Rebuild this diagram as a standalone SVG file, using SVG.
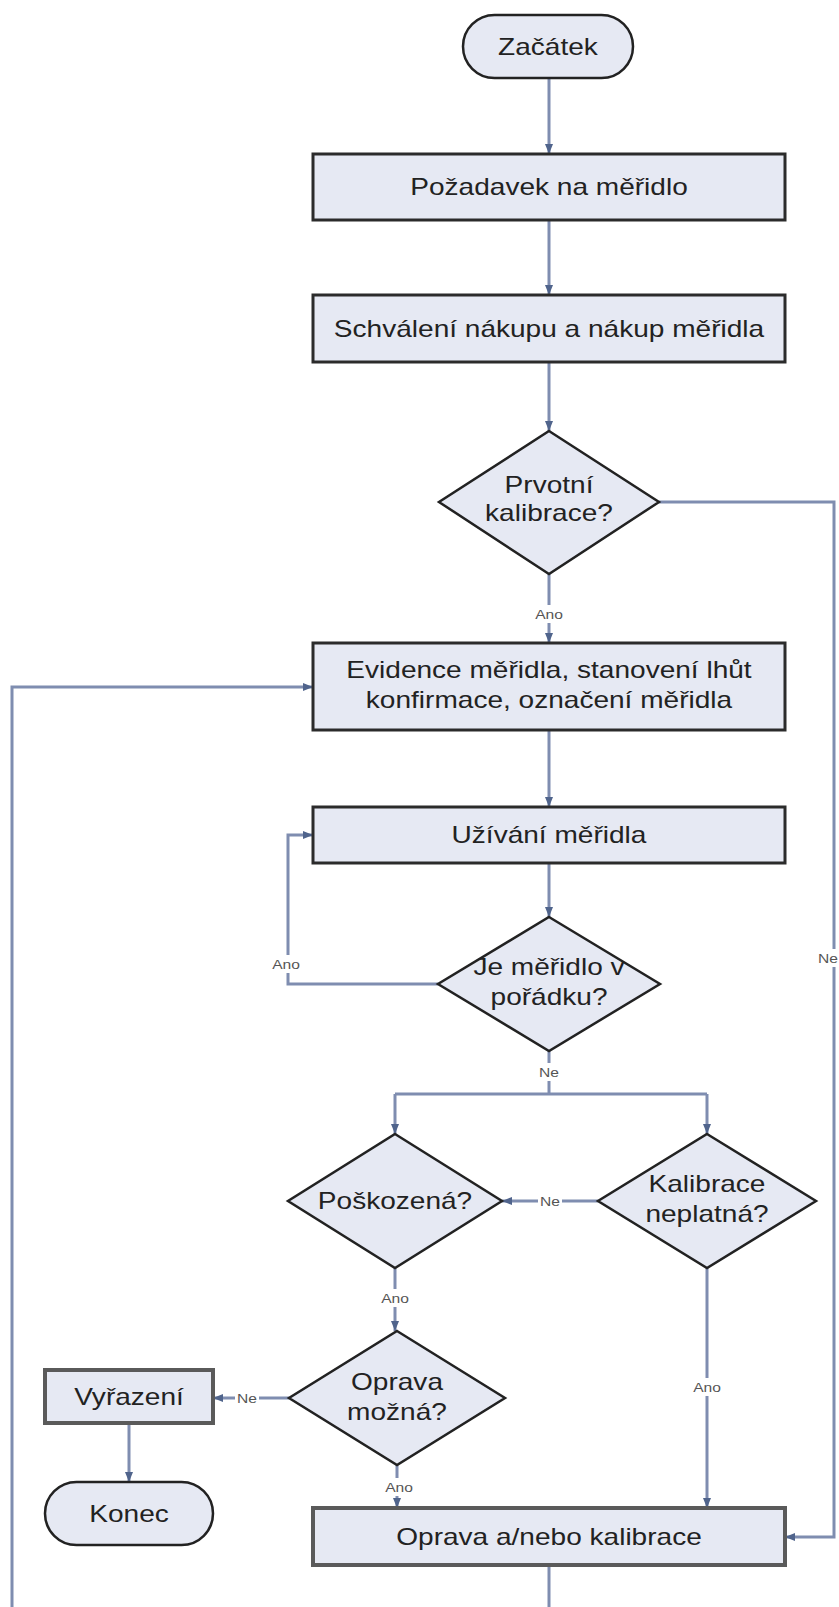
<svg xmlns="http://www.w3.org/2000/svg" width="839" height="1607" viewBox="0 0 839 1607">
  <style>
    .box { fill: #e6e9f3; stroke: #2b2b2b; stroke-width: 3; }
    .box2 { fill: #e6e9f3; stroke: #5a5a5a; stroke-width: 4; }
    .dia { fill: #e6e9f3; stroke: #222; stroke-width: 2.5; }
    .term { fill: #e6e9f3; stroke: #222; stroke-width: 2.5; }
    .t { font-family: "Liberation Sans", Arial, sans-serif; font-size: 23px; fill: #222; text-anchor: middle; }
    .lbl { font-family: "Liberation Sans", Arial, sans-serif; font-size: 13px; fill: #555; text-anchor: middle; }
    .lblbg { fill: #fff; }
    .conn { fill: none; stroke: #7f8db0; stroke-width: 3; }
  </style>
  <defs>
    <marker id="arr" markerUnits="userSpaceOnUse" markerWidth="10" markerHeight="10" viewBox="0 0 10 10" refX="10" refY="5" orient="auto">
      <path d="M0,1 L10,5 L0,9 Z" fill="#50648c"/>
    </marker>
  </defs>
  <rect width="839" height="1607" fill="#fff"/>

  <!-- connectors -->
  <g id="connectors">
    <path class="conn" d="M549,78 V154" marker-end="url(#arr)"/>
    <path class="conn" d="M549,220 V295" marker-end="url(#arr)"/>
    <path class="conn" d="M549,362 V431" marker-end="url(#arr)"/>
    <path class="conn" d="M549,574 V643" marker-end="url(#arr)"/>
    <path class="conn" d="M659,502 H834 V1537 H785" marker-end="url(#arr)"/>
    <path class="conn" d="M12,1607 V687 H313" marker-end="url(#arr)"/>
    <path class="conn" d="M549,730 V807" marker-end="url(#arr)"/>
    <path class="conn" d="M549,863 V917" marker-end="url(#arr)"/>
    <path class="conn" d="M438,984 H288 V835 H313" marker-end="url(#arr)"/>
    <path class="conn" d="M549,1051 V1094"/>
    <path class="conn" d="M395,1094 H707"/>
    <path class="conn" d="M395,1094 V1134" marker-end="url(#arr)"/>
    <path class="conn" d="M707,1094 V1134" marker-end="url(#arr)"/>
    <path class="conn" d="M598,1201 H502" marker-end="url(#arr)"/>
    <path class="conn" d="M395,1268 V1331" marker-end="url(#arr)"/>
    <path class="conn" d="M289,1398 H213" marker-end="url(#arr)"/>
    <path class="conn" d="M129,1423 V1482" marker-end="url(#arr)"/>
    <path class="conn" d="M397,1465 V1508" marker-end="url(#arr)"/>
    <path class="conn" d="M707,1268 V1508" marker-end="url(#arr)"/>
    <path class="conn" d="M549,1565 V1607"/>

    <!-- branch labels -->
    <rect class="lblbg" x="533" y="605" width="32" height="18"/>
    <text class="lbl" transform="translate(549,619) scale(1.2,1)">Ano</text>
    <rect class="lblbg" x="270" y="955" width="32" height="18"/>
    <text class="lbl" transform="translate(286,969) scale(1.2,1)">Ano</text>
    <rect class="lblbg" x="537" y="1063" width="24" height="18"/>
    <text class="lbl" transform="translate(549,1077) scale(1.2,1)">Ne</text>
    <rect class="lblbg" x="538" y="1192" width="24" height="18"/>
    <text class="lbl" transform="translate(550,1206) scale(1.2,1)">Ne</text>
    <rect class="lblbg" x="379" y="1289" width="32" height="18"/>
    <text class="lbl" transform="translate(395,1303) scale(1.2,1)">Ano</text>
    <rect class="lblbg" x="235" y="1389" width="24" height="18"/>
    <text class="lbl" transform="translate(247,1403) scale(1.2,1)">Ne</text>
    <rect class="lblbg" x="383" y="1478" width="32" height="18"/>
    <text class="lbl" transform="translate(399,1492) scale(1.2,1)">Ano</text>
    <rect class="lblbg" x="691" y="1378" width="32" height="18"/>
    <text class="lbl" transform="translate(707,1392) scale(1.2,1)">Ano</text>
    <rect class="lblbg" x="817" y="949" width="22" height="18"/>
    <text class="lbl" transform="translate(828,963) scale(1.2,1)">Ne</text>
  </g>

  <!-- nodes -->
  <g id="start">
    <rect class="term" x="463" y="15" width="170" height="63" rx="31.5"/>
    <text class="t" transform="translate(548,55) scale(1.22,1)">Začátek</text>
  </g>
  <g id="request">
    <rect class="box" x="313" y="154" width="472" height="66"/>
    <text class="t" transform="translate(549,195) scale(1.22,1)">Požadavek na měřidlo</text>
  </g>
  <g id="purchase">
    <rect class="box" x="313" y="295" width="472" height="67"/>
    <text class="t" transform="translate(549,337) scale(1.22,1)">Schválení nákupu a nákup měřidla</text>
  </g>
  <g id="first-cal">
    <polygon class="dia" points="549,431 659,502 549,574 439,502"/>
    <text class="t" transform="translate(549,493) scale(1.22,1)">Prvotní</text>
    <text class="t" transform="translate(549,521) scale(1.22,1)">kalibrace?</text>
  </g>
  <g id="register">
    <rect class="box" x="313" y="643" width="472" height="87"/>
    <text class="t" transform="translate(549,678) scale(1.22,1)">Evidence měřidla, stanovení lhůt</text>
    <text class="t" transform="translate(549,708) scale(1.22,1)">konfirmace, označení měřidla</text>
  </g>
  <g id="use">
    <rect class="box" x="313" y="807" width="472" height="56"/>
    <text class="t" transform="translate(549,843) scale(1.22,1)">Užívání měřidla</text>
  </g>
  <g id="ok">
    <polygon class="dia" points="549,917 660,984 549,1051 438,984"/>
    <text class="t" transform="translate(549,975) scale(1.22,1)">Je měřidlo v</text>
    <text class="t" transform="translate(549,1005) scale(1.22,1)">pořádku?</text>
  </g>
  <g id="damaged">
    <polygon class="dia" points="395,1134 502,1201 395,1268 288,1201"/>
    <text class="t" transform="translate(395,1209) scale(1.22,1)">Poškozená?</text>
  </g>
  <g id="cal-invalid">
    <polygon class="dia" points="707,1134 816,1201 707,1268 598,1201"/>
    <text class="t" transform="translate(707,1192) scale(1.22,1)">Kalibrace</text>
    <text class="t" transform="translate(707,1222) scale(1.22,1)">neplatná?</text>
  </g>
  <g id="repairable">
    <polygon class="dia" points="397,1331 505,1398 397,1465 289,1398"/>
    <text class="t" transform="translate(397,1390) scale(1.22,1)">Oprava</text>
    <text class="t" transform="translate(397,1420) scale(1.22,1)">možná?</text>
  </g>
  <g id="discard">
    <rect class="box2" x="45" y="1370" width="168" height="53"/>
    <text class="t" transform="translate(129,1405) scale(1.22,1)">Vyřazení</text>
  </g>
  <g id="end">
    <rect class="term" x="45" y="1482" width="168" height="63" rx="31.5"/>
    <text class="t" transform="translate(129,1522) scale(1.22,1)">Konec</text>
  </g>
  <g id="repair">
    <rect class="box2" x="313" y="1508" width="472" height="57"/>
    <text class="t" transform="translate(549,1545) scale(1.22,1)">Oprava a/nebo kalibrace</text>
  </g>
</svg>
